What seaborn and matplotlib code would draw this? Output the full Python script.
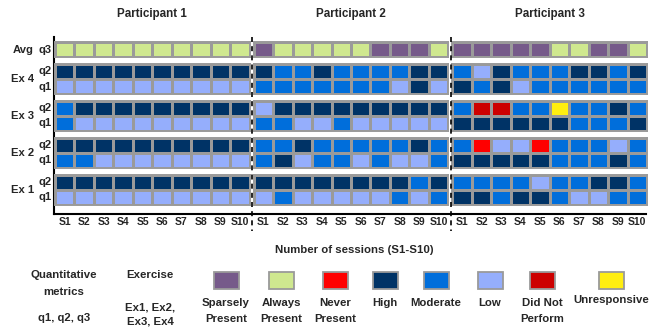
import pandas as pd
import matplotlib.pyplot as plt
import seaborn as sns
from matplotlib.colors import ListedColormap
from matplotlib.lines import Line2D
from matplotlib.patches import Rectangle

# Category codes, legend labels and colours
codes = ['SP', 'AP', 'NP', 'H', 'M', 'L', 'DNP', 'U']
labels = ['Sparsely\nPresent', 'Always\nPresent', 'Never\nPresent', 'High',
          'Moderate', 'Low', 'Did Not\nPerform', 'Unresponsive']
colors = ['#765a8a', '#cfe88f', '#ff0000', '#003366',
          '#006edb', '#95aefc', '#cc0000', '#ffee11']

sessions = ['S1', 'S2', 'S3', 'S4', 'S5', 'S6', 'S7', 'S8', 'S9', 'S10']
participants = ['Participant 1', 'Participant 2', 'Participant 3']
groups = ['Avg', 'Ex 4', 'Ex 3', 'Ex 2', 'Ex 1']
group_metrics = [['q3'], ['q2', 'q1'], ['q2', 'q1'], ['q2', 'q1'], ['q2', 'q1']]

# rows: Avg q3, Ex4 q2, Ex4 q1, Ex3 q2, Ex3 q1, Ex2 q2, Ex2 q1, Ex1 q2, Ex1 q1
p1 = [
    'AP AP AP AP AP AP AP AP AP AP',
    'H H H H H H H H H H',
    'L L L L L L L L L L',
    'M H H H H H H H H H',
    'M L L L L L L L L L',
    'H H H H H H H H H H',
    'M M L L L L L L L L',
    'H H H H H H H H H H',
    'L L L L L L L L L L',
]
p2 = [
    'SP AP AP AP AP AP SP SP SP AP',
    'H M M H M M M M H H',
    'M M M M M M M L H L',
    'L H H H H H H H H H',
    'M M L L M L L L L L',
    'M M H M M M M M H M',
    'M H L M M L M L L M',
    'H H H H H H H H M H',
    'L M L L L L L M L M',
]
p3 = [
    'SP SP SP SP SP AP AP SP SP AP',
    'M L H M M M H H M H',
    'H M H L M M M M M M',
    'M DNP DNP M M U M M H M',
    'H H H H H H M M M H',
    'M NP L L NP M M M L M',
    'H H H H H M M M H M',
    'M M M M L M M H H M',
    'H H M H H M L L M M',
]

W, H = 672, 329
def fx(px):
    return px / W
def fy(py):
    return 1 - py / H

sns.set_theme(style='white')
plt.rcParams['font.family'] = ['Liberation Sans', 'DejaVu Sans']
plt.rcParams['font.weight'] = 'bold'
fs = 7.5
lfs = 8.2
grid_gray = '#9a9a9a'
cmap = ListedColormap(colors)
code_idx = {c: i for i, c in enumerate(codes)}

fig = plt.figure(figsize=(6.72, 3.29), dpi=100)

# background axes carrying the left / bottom axis lines
bg = fig.add_axes([fx(54), fy(214), fx(646) - fx(54), fy(37) - fy(214)])
bg.set_facecolor('none')
bg.set_xticks([])
bg.set_yticks([])
for s in ['top', 'right']:
    bg.spines[s].set_visible(False)
for s in ['left', 'bottom']:
    bg.spines[s].set_color('black')
    bg.spines[s].set_linewidth(1.5)

gs = fig.add_gridspec(5, 3, left=fx(55), right=fx(647), top=fy(42), bottom=fy(205),
                      height_ratios=[1, 2, 2, 2, 2], hspace=0.24, wspace=0.021)

row_start = [0, 1, 3, 5, 7]
for j, pdata in enumerate([p1, p2, p3]):
    for i, g in enumerate(groups):
        ax = fig.add_subplot(gs[i, j])
        mets = group_metrics[i]
        rows = pdata[row_start[i]:row_start[i] + len(mets)]
        df = pd.DataFrame([[code_idx[c] for c in r.split()] for r in rows],
                          index=mets, columns=sessions)
        sns.heatmap(df, ax=ax, cmap=cmap, vmin=-0.5, vmax=len(codes) - 0.5,
                    cbar=False, linewidths=1, linecolor=grid_gray,
                    xticklabels=True, yticklabels=True)
        for s in ax.spines.values():
            s.set_visible(True)
            s.set_color(grid_gray)
            s.set_linewidth(1.4)
        ax.tick_params(length=0)
        if j == 0:
            ax.set_yticks([k + 0.5 for k in range(len(mets))])
            ax.set_yticklabels(mets, rotation=0, fontsize=fs + 0.6, fontweight='bold')
            ax.tick_params(axis='y', pad=2.5)
        else:
            ax.set_yticks([])
        if i == 4:
            ax.set_xticks([k + 0.5 for k in range(len(sessions))])
            ax.set_xticklabels(sessions, rotation=0, fontsize=fs, fontweight='bold')
            ax.tick_params(axis='x', pad=9)
        else:
            ax.set_xticks([])
        ax.set_xlabel('')
        ax.set_ylabel('')
        if j == 0:
            pos = ax.get_position()
            fig.text(fx(34), (pos.y0 + pos.y1) / 2, g, ha='right', va='center',
                     fontsize=fs + 0.6, fontweight='bold')
        if i == 0:
            pos = ax.get_position()
            fig.text((pos.x0 + pos.x1) / 2, fy(14), participants[j], ha='center',
                     va='center', fontsize=fs + 0.9, fontweight='bold')

# dashed separators between participants
for x in [251.5, 450.5]:
    fig.add_artist(Line2D([fx(x), fx(x)], [fy(37), fy(231)], color='black',
                          lw=1.2, linestyle=(0, (3, 2.5))))

fig.text(fx(354), fy(250), 'Number of sessions (S1-S10)', ha='center', va='center',
         fontsize=lfs, fontweight='bold')

# legend block
fig.text(fx(64), fy(275), 'Quantitative', ha='center', va='center',
         fontsize=lfs, fontweight='bold')
fig.text(fx(64), fy(292), 'metrics', ha='center', va='center',
         fontsize=lfs, fontweight='bold')
fig.text(fx(64), fy(318), 'q1, q2, q3', ha='center', va='center',
         fontsize=lfs, fontweight='bold')
fig.text(fx(150), fy(275), 'Exercise', ha='center', va='center',
         fontsize=lfs, fontweight='bold')
fig.text(fx(150), fy(307), 'Ex1, Ex2,', ha='center', va='center',
         fontsize=lfs, fontweight='bold')
fig.text(fx(150), fy(322), 'Ex3, Ex4', ha='center', va='center',
         fontsize=lfs, fontweight='bold')

swatch_x = [226, 281, 335, 385, 436, 490, 542, 611]
for cx, col, lab in zip(swatch_x, colors, labels):
    fig.add_artist(Rectangle((fx(cx - 12.5), fy(289)), 25 / W, 17.5 / H,
                             facecolor=col, edgecolor=grid_gray, lw=1.3,
                             transform=fig.transFigure))
    y0 = 300 if lab == 'Unresponsive' else 303
    for k, line in enumerate(lab.split('\n')):
        fig.text(fx(cx), fy(y0 + 16 * k), line, ha='center', va='center',
                 fontsize=lfs, fontweight='bold')

plt.savefig('out.png', dpi=100)
